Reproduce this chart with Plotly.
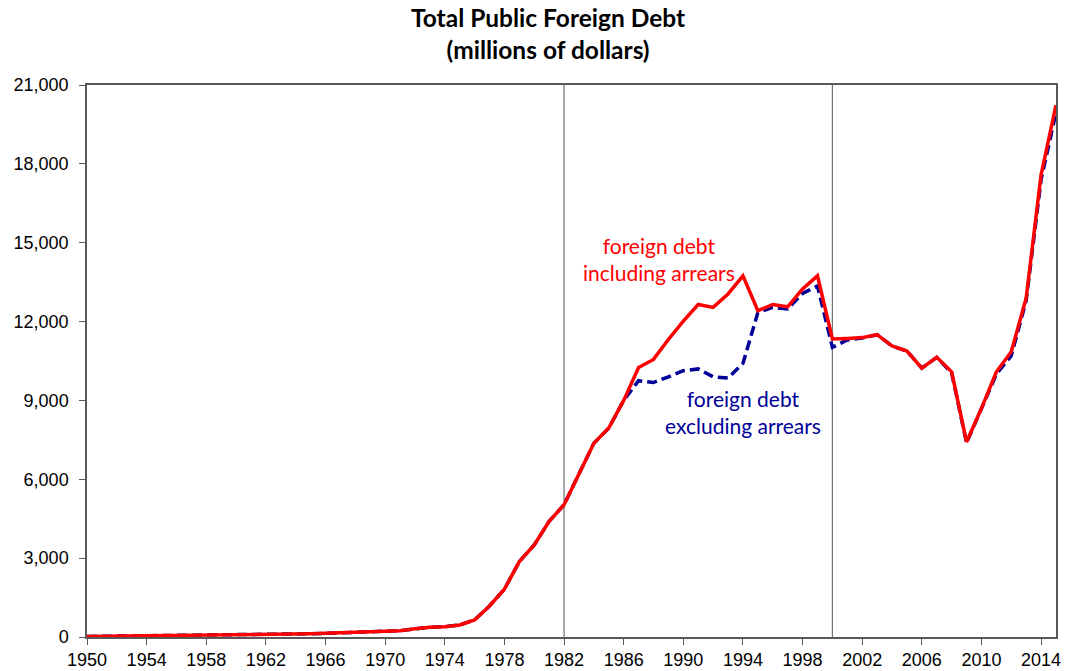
import plotly.graph_objects as go

years = list(range(1950, 2016))

incl_arrears = [
    20, 25, 30, 35, 40, 45, 50, 55, 60, 65,          # 1950-1959
    75, 85, 95, 105, 115, 125, 140, 160, 180, 195,   # 1960-1969
    215, 240, 310, 370, 390, 460, 650, 1180, 1820, 2870,  # 1970-1979
    3500, 4400, 5030, 6220, 7370, 7950, 9000, 10250, 10560, 11320,  # 1980-1989
    12020, 12650, 12540, 13050, 13740, 12410, 12650, 12560, 13240, 13740,  # 1990-1999
    11340, 11360, 11390, 11500, 11070, 10880, 10230, 10640, 10090, 7420,  # 2000-2009
    8700, 10090, 10850, 12900, 17580, 20230,  # 2010-2015
]

excl_arrears = [
    20, 25, 30, 35, 40, 45, 50, 55, 60, 65,
    75, 85, 95, 105, 115, 125, 140, 160, 180, 195,
    215, 240, 310, 370, 390, 460, 650, 1180, 1820, 2870,
    3500, 4400, 5030, 6220, 7370, 7950, 9000, 9750, 9680, 9900,
    10130, 10200, 9900, 9850, 10410, 12340, 12540, 12480, 13070, 13350,
    11020, 11300, 11370, 11500, 11070, 10880, 10230, 10640, 10050, 7380,
    8650, 10000, 10700, 12800, 17400, 19950,
]

x_ticks = list(range(1950, 2015, 4))
y_ticks = list(range(0, 21001, 3000))
marker_years = [1982, 2000]

title_text = "<b>Total Public Foreign Debt<br>(millions of dollars)</b>"

fig = go.Figure()

fig.add_trace(go.Scatter(
    x=years, y=excl_arrears, mode="lines",
    line=dict(color="#000099", width=3.5, dash="10px,5px"),
    name="foreign debt excluding arrears", hoverinfo="x+y",
))
fig.add_trace(go.Scatter(
    x=years, y=incl_arrears, mode="lines",
    line=dict(color="#FF0000", width=3.5),
    name="foreign debt including arrears", hoverinfo="x+y",
))

for yr in marker_years:
    fig.add_shape(type="line", xref="x", yref="paper", x0=yr, x1=yr, y0=0, y1=1,
                  line=dict(color="#707070", width=1.2), layer="below")

fig.add_annotation(x=1988.35, y=14380, xref="x", yref="y",
                   text="foreign debt<br>including arrears", showarrow=False,
                   font=dict(family="Lato, Open Sans, sans-serif", size=21, color="#FF0000"),
                   align="center")
fig.add_annotation(x=1994.0, y=8560, xref="x", yref="y",
                   text="foreign debt<br>excluding arrears", showarrow=False,
                   font=dict(family="Lato, Open Sans, sans-serif", size=21, color="#000099"),
                   align="center")

# chart title as a paper-anchored annotation
fig.add_annotation(x=0.4757, y=1.0924, xref="paper", yref="paper",
                   xanchor="center", yanchor="middle",
                   text=title_text, showarrow=False, align="center",
                   font=dict(family="Lato, Open Sans, sans-serif", size=24.5, color="black"))

fig.update_layout(
    width=1065, height=671,
    paper_bgcolor="white", plot_bgcolor="white",
    showlegend=False,
    margin=dict(l=87, r=9, t=85, b=34, autoexpand=False),
    font=dict(family="Liberation Sans, Arial, sans-serif", size=18, color="black"),
)

fig.update_xaxes(
    range=[1950, 2015], tickmode="array", tickvals=x_ticks,
    ticktext=[str(t) for t in x_ticks],
    showgrid=False, zeroline=False, automargin=False,
    showline=True, linecolor="#595959", linewidth=1.5, mirror=True,
    ticks="outside", ticklen=6, tickcolor="#595959",
    tickfont=dict(family="Liberation Sans, Arial, sans-serif", size=18),
)
fig.update_yaxes(
    range=[0, 21000], tickmode="array", tickvals=y_ticks,
    ticktext=[f"{v:,}" for v in y_ticks],
    showgrid=False, zeroline=False, automargin=False,
    showline=True, linecolor="#595959", linewidth=1.5, mirror=True,
    ticks="outside", ticklen=6, tickcolor="#595959",
    ticklabelstandoff=7,
    tickfont=dict(family="Liberation Sans, Arial, sans-serif", size=18),
)

fig.write_html(
    "out.html",
    config={"displayModeBar": False},
    post_script="document.body.style.margin='0';document.body.style.overflow='hidden';",
)
